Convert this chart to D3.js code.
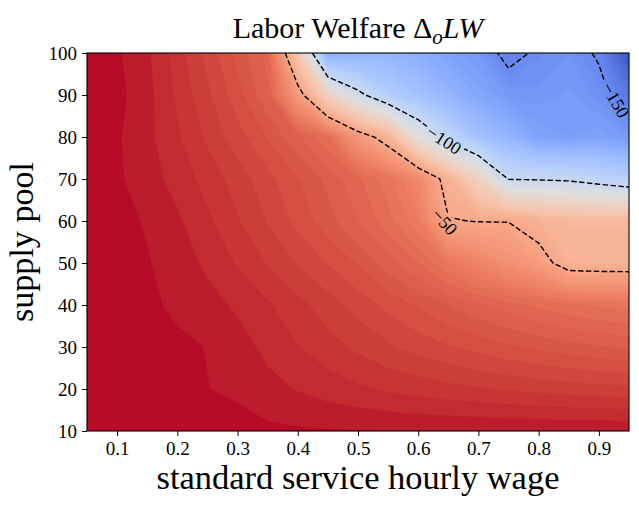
<!DOCTYPE html>
<html><head><meta charset="utf-8">
<script src="https://cdn.jsdelivr.net/npm/d3@7"></script>
<style>
html,body{margin:0;padding:0;background:#fff;}
svg{display:block;}
text{font-family:"Liberation Serif","DejaVu Serif",serif;fill:#000;}
</style></head><body>
<svg id="chart" width="639" height="505"></svg>
<script>
// ---- data ----
const xValues = [0.05,0.10,0.15,0.20,0.25,0.30,0.35,0.40,0.45,0.50,0.55,0.60,0.65,0.70,0.75,0.80,0.85,0.90,0.95];
const yValues = [10,20,30,40,50,60,70,80,90,100];
// one row of ΔLW per supply-pool value (x = wage)
const z10  = [0,0,0,0,-0.8,-1.5,-2.0,-2.2,-2.35,-2.45,-2.55,-2.6,-2.65,-2.7,-2.75,-2.8,-2.85,-2.9,-2.9];
const z20  = [0,-0.3,-0.8,-1.5,-2.45,-3.0,-4.2,-5.2,-6.2,-7.1,-7.9,-8.6,-9.2,-9.8,-10.3,-10.8,-11.2,-11.6,-11.9];
const z30  = [0,-0.5,-1.1,-1.9,-2.6,-4.0,-5.7,-7.4,-9.0,-10.6,-12.1,-13.5,-14.8,-16.0,-17.1,-18.1,-19.0,-19.8,-20.6];
const z40  = [0,-0.8,-1.9,-3.1,-4.2,-5.4,-7.2,-9.2,-11.3,-13.5,-15.7,-17.9,-20.0,-22.0,-23.9,-25.6,-27.0,-28.0,-28.5];
const z50  = [0,-1.0,-2.3,-3.8,-5.5,-7.8,-10.2,-12.7,-15.2,-17.8,-21.5,-25,-30,-35,-40,-45.5,-55,-55.5,-55.6];
const z60  = [0,-1.6,-2.8,-4.6,-7.0,-9.8,-12.7,-15.8,-19.0,-22.5,-26.5,-32,-49.5,-50.3,-50.3,-55,-58,-58,-58];
const z70  = [0,-2.1,-3.9,-6.0,-8.5,-11.2,-14.2,-17.4,-20.8,-24.5,-29,-37,-55,-75,-100.5,-101,-102,-106,-110];
const z80  = [0,-2.2,-4.3,-7.2,-10.5,-14,-17.8,-22,-27,-43,-56,-86,-105,-120,-128,-138,-140,-138,-142];
const z90  = [0,-1.7,-4.2,-8.0,-12,-16.5,-22,-44,-75,-96,-112,-120,-128,-136,-143,-144,-142,-146,-158];
const z100 = [0,-2.2,-4.6,-8.8,-13.4,-18.4,-23.6,-69,-133,-130,-128,-132,-138,-143,-154,-148,-145,-151.5,-172];

const xTicks = [0.1,0.2,0.3,0.4,0.5,0.6,0.7,0.8,0.9];
const yTicks = [10,20,30,40,50,60,70,80,90,100];
const lineLevels = [-150,-100,-50];
const levelLabels = [
  {level:-100, x:0.643, y:79.3, angle:33},
  {level:-50,  x:0.644, y:59.8, angle:48},
  {level:-150, x:0.928, y:88.8, angle:60}
];
const fillMin = -175, fillMax = 0, fillStep = 2.5;

// coolwarm colormap table
const coolwarm = [[59,76,192],[68,90,204],[77,104,215],[87,117,225],[98,130,234],[108,142,241],[119,154,247],[130,165,251],[141,176,254],[152,185,255],[163,194,255],[174,201,253],[184,208,249],[194,213,244],[204,217,238],[213,219,230],[221,221,221],[229,216,209],[236,211,197],[241,204,185],[245,196,173],[247,187,160],[247,177,148],[247,166,135],[244,154,123],[241,141,111],[236,127,99],[229,112,88],[222,96,77],[213,80,66],[203,62,56],[192,40,47],[180,4,38]];
function cmap(t){
  t=Math.max(0,Math.min(1,t));
  const n=coolwarm.length-1, f=t*n, i=Math.min(n-1,Math.floor(f)), u=f-i;
  const a=coolwarm[i], b=coolwarm[i+1];
  return `rgb(${Math.round(a[0]+(b[0]-a[0])*u)},${Math.round(a[1]+(b[1]-a[1])*u)},${Math.round(a[2]+(b[2]-a[2])*u)})`;
}

// ---- layout ----
const L=87,R=629,T=53,B=431;
const svg=d3.select('#chart');
const x=d3.scaleLinear().domain([0.05,0.95]).range([L,R]);
const y=d3.scaleLinear().domain([10,100]).range([B,T]);

const grid=[z10,z20,z30,z40,z50,z60,z70,z80,z90,z100];
const nx=xValues.length, ny=yValues.length;
const values=grid.flat();
const xStep=xValues[1]-xValues[0], yStep=yValues[1]-yValues[0];
const proj=d3.geoTransform({point(px,py){
  this.stream.point(x(xValues[0]+(px-0.5)*xStep), y(yValues[0]+(py-0.5)*yStep));
}});
const path=d3.geoPath(proj);

const defs=svg.append('defs');
defs.append('clipPath').attr('id','plotclip').append('rect')
  .attr('x',L).attr('y',T).attr('width',R-L).attr('height',B-T);

// filled contours
const fillLevels=[];
for(let v=fillMin; v<fillMax-1e-9; v+=fillStep) fillLevels.push(+v.toFixed(4));
const bands=d3.contours().size([nx,ny]).thresholds(fillLevels)(values);
const gFill=svg.append('g').attr('clip-path','url(#plotclip)');
bands.forEach((c,i)=>{
  const lo=fillLevels[i], hi=(i+1<fillLevels.length)?fillLevels[i+1]:fillMax;
  const t=((lo+hi)/2-fillMin)/(fillMax-fillMin);
  const col=cmap(t);
  gFill.append('path').attr('d',path(c)).attr('fill',col).attr('stroke',col).attr('stroke-width',0.6);
});

// label mask
const labelFont=18;
const mask=defs.append('mask').attr('id','lblmask').attr('maskUnits','userSpaceOnUse')
  .attr('x',0).attr('y',0).attr('width',639).attr('height',505);
mask.append('rect').attr('x',0).attr('y',0).attr('width',639).attr('height',505).attr('fill','#fff');

const gLine=svg.append('g').attr('clip-path','url(#plotclip)');
const gLineInner=gLine.append('g').attr('mask','url(#lblmask)');
const gLbl=svg.append('g').attr('clip-path','url(#plotclip)');
levelLabels.forEach(d=>{
  const px=x(d.x), py=y(d.y);
  const t=gLbl.append('text').attr('transform',`translate(${px},${py}) rotate(${d.angle})`)
    .attr('text-anchor','middle').attr('dy','0.35em').style('font-size',labelFont+'px')
    .text('\u2212'+Math.abs(d.level));
  const w=t.node().getComputedTextLength();
  mask.append('rect').attr('x',-w/2-3).attr('y',-labelFont*0.45).attr('width',w+6).attr('height',labelFont*0.9)
    .attr('transform',`translate(${px},${py}) rotate(${d.angle})`).attr('fill','#000');
});

// contour lines
const lines=d3.contours().size([nx,ny]).thresholds(lineLevels)(values);
lines.forEach(c=>{
  gLineInner.append('path').attr('d',path(c)).attr('fill','none')
    .attr('stroke','#000').attr('stroke-width',1.4).attr('stroke-dasharray','5.5,2.4');
});

// axes
const xAxis=d3.axisBottom(x).tickValues(xTicks).tickSize(5).tickSizeOuter(0).tickPadding(6).tickFormat(d3.format('.1f'));
const yAxis=d3.axisLeft(y).tickValues(yTicks).tickSize(5).tickSizeOuter(0).tickPadding(5).tickFormat(d3.format('d'));
const gx=svg.append('g').attr('transform',`translate(0,${B})`).call(xAxis);
const gy=svg.append('g').attr('transform',`translate(${L},0)`).call(yAxis);
[gx,gy].forEach(g=>{
  g.select('.domain').remove();
  g.selectAll('line').attr('stroke','#000').attr('stroke-width',1);
  g.selectAll('text').style('font-size','19px').style('font-family','"Liberation Serif",serif').attr('fill','#000');
});
svg.append('rect').attr('x',L).attr('y',T).attr('width',R-L).attr('height',B-T)
  .attr('fill','none').attr('stroke','#000').attr('stroke-width',1.1);

// labels
function fit(sel,target){
  const w=sel.node().getComputedTextLength();
  const fs=parseFloat(sel.style('font-size'));
  sel.style('font-size',(fs*target/w)+'px');
}
const xl=svg.append('text').attr('x',(L+R)/2).attr('y',489).attr('text-anchor','middle')
  .style('font-size','28px').text('standard service hourly wage');
fit(xl,403);
const yl=svg.append('text').attr('transform',`translate(33,${(T+B)/2}) rotate(-90)`).attr('text-anchor','middle')
  .style('font-size','28px').text('supply pool');
fit(yl,160);
const title=svg.append('text').attr('x',(L+R)/2).attr('y',38).attr('text-anchor','middle').style('font-size','30px');
title.append('tspan').text('Labor Welfare \u0394');
title.append('tspan').attr('font-style','italic').attr('dy','6').style('font-size','21px').text('o');
title.append('tspan').attr('font-style','italic').attr('dy','-6').text('LW');
</script>
</body></html>
